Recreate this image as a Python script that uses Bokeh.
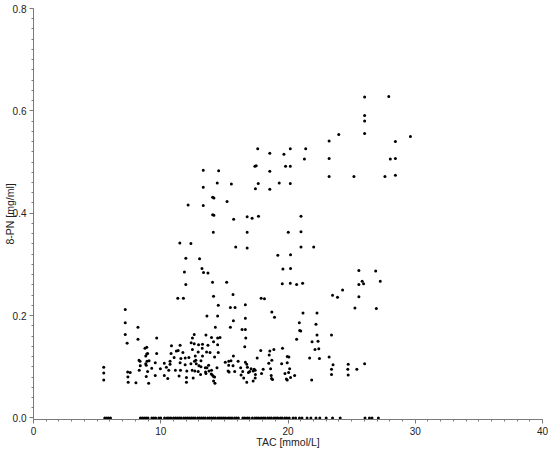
from bokeh.plotting import figure
from bokeh.models import Range1d, SingleIntervalTicker, NumeralTickFormatter
from bokeh.embed import file_html
from bokeh.resources import INLINE

# Upper / middle cluster (TAC mmol/L, 8-PN mg/ml)
tac_upper = [17.62, 18.57, 19.68, 20.18, 21.39, 21.29, 17.40, 17.50, 18.57, 19.81, 20.18,
             13.34, 14.55, 17.66, 17.44, 18.57, 19.31, 20.18, 13.34, 14.44, 15.55, 14.08, 14.18,
             15.21, 12.15, 13.34, 14.08, 14.18, 15.73, 16.79, 17.18, 17.68, 21.02, 14.13, 16.79,
             20.02, 21.02, 11.50, 12.37, 15.89, 16.79, 21.02, 22.02, 19.20, 20.20, 11.97, 13.05,
             13.24, 11.86, 13.36, 13.71, 19.60, 20.20, 11.97, 14.07, 15.18, 19.55, 20.18, 20.68, 21.15,
             26.02, 27.92, 26.02, 26.02, 26.02, 23.99, 23.23, 28.44, 29.62, 23.23, 28.04, 28.44,
             23.23, 25.18, 27.62, 28.44, 25.57, 26.89, 25.83, 25.57, 25.94, 27.25, 25.57, 25.26,
             26.94, 26.02, 25.41]
pn_upper = [0.526, 0.517, 0.515, 0.526, 0.526, 0.506, 0.492, 0.493, 0.482, 0.492, 0.492,
            0.484, 0.483, 0.458, 0.448, 0.447, 0.459, 0.458, 0.451, 0.459, 0.457, 0.431, 0.430,
            0.423, 0.416, 0.415, 0.397, 0.396, 0.388, 0.393, 0.390, 0.394, 0.394, 0.363, 0.363,
            0.363, 0.364, 0.342, 0.341, 0.334, 0.332, 0.334, 0.334, 0.318, 0.319, 0.312, 0.311,
            0.292, 0.285, 0.284, 0.283, 0.291, 0.292, 0.261, 0.265, 0.265, 0.262, 0.263, 0.261, 0.263,
            0.627, 0.628, 0.591, 0.580, 0.556, 0.554, 0.541, 0.540, 0.550, 0.507, 0.506, 0.507,
            0.472, 0.472, 0.472, 0.474, 0.288, 0.287, 0.267, 0.261, 0.262, 0.267, 0.237, 0.215,
            0.214, 0.106, 0.095]

# Lower middle cluster
tac_mid = [14.15, 15.68, 17.89, 18.15, 23.50, 23.89, 24.29, 14.52, 15.47, 15.84, 16.65, 18.73,
           18.94, 21.18, 22.28, 13.63, 14.47, 16.65, 15.71, 14.29, 15.47, 20.89, 22.20, 16.39,
           16.65, 20.92, 21.00, 12.63, 13.55, 22.28, 23.42, 13.99, 14.47, 14.66, 16.68, 20.68,
           14.15, 12.63, 12.97, 13.28, 13.71, 14.47, 21.89, 22.36, 13.26, 16.60, 22.12, 22.42,
           12.94, 13.60, 13.87, 14.52, 17.86, 18.57, 18.89, 19.57, 12.71, 13.28, 14.23, 15.71,
           18.52, 19.94, 20.07, 21.70, 22.47, 23.23, 12.76, 12.65, 13.16, 15.07, 15.34, 15.52,
           16.08, 17.58, 18.73, 12.79, 13.00, 13.16, 13.76, 15.34, 15.68, 16.65, 16.76, 18.49,
           19.50, 19.94, 23.54, 24.73, 13.50, 13.63, 14.42, 16.28, 16.81, 17.10, 17.34, 18.05,
           18.63, 20.13, 23.42, 24.70, 12.68, 12.94, 13.52, 13.79, 13.99, 15.29, 15.37, 15.81,
           16.44, 16.99, 17.26, 17.42, 16.31, 16.89, 13.13, 13.55, 13.97, 14.05, 17.44, 17.92,
           18.68, 19.76, 20.05, 23.42, 24.73, 14.15, 14.23, 16.52, 17.42, 18.71, 18.78, 19.87,
           19.94, 20.20, 21.86, 14.15, 14.26, 16.76, 17.26, 20.52]
pn_mid = [0.238, 0.241, 0.234, 0.233, 0.240, 0.236, 0.250, 0.220, 0.216, 0.216, 0.221, 0.207,
          0.197, 0.205, 0.205, 0.199, 0.199, 0.195, 0.190, 0.177, 0.177, 0.186, 0.183, 0.173,
          0.173, 0.171, 0.170, 0.163, 0.162, 0.162, 0.162, 0.157, 0.156, 0.157, 0.156, 0.154,
          0.149, 0.145, 0.143, 0.144, 0.142, 0.143, 0.149, 0.150, 0.136, 0.139, 0.134, 0.135,
          0.129, 0.129, 0.128, 0.128, 0.132, 0.131, 0.134, 0.136, 0.121, 0.121, 0.119, 0.121,
          0.123, 0.120, 0.119, 0.117, 0.116, 0.119, 0.113, 0.111, 0.112, 0.109, 0.111, 0.112,
          0.111, 0.117, 0.113, 0.106, 0.102, 0.100, 0.103, 0.103, 0.102, 0.109, 0.105, 0.107,
          0.106, 0.108, 0.104, 0.105, 0.098, 0.098, 0.098, 0.098, 0.099, 0.096, 0.095, 0.095,
          0.096, 0.096, 0.095, 0.095, 0.092, 0.091, 0.090, 0.092, 0.093, 0.092, 0.090, 0.091,
          0.091, 0.091, 0.092, 0.093, 0.084, 0.089, 0.085, 0.087, 0.086, 0.084, 0.085, 0.087,
          0.083, 0.087, 0.089, 0.085, 0.084, 0.081, 0.080, 0.078, 0.078, 0.077, 0.075, 0.076,
          0.074, 0.079, 0.074, 0.072, 0.068, 0.070, 0.072, 0.083]

# Lower left cluster
tac_left = [11.34, 11.78, 7.21, 7.21, 8.21, 7.21, 8.21, 9.68, 7.36, 12.49, 12.39, 10.84, 11.52,
            12.49, 8.90, 8.76, 11.23, 11.37, 11.74, 8.90, 8.97, 9.68, 10.81, 8.82, 8.29, 8.37,
            11.05, 11.58, 11.92, 12.21, 8.92, 9.08, 9.57, 10.73, 8.39, 8.82, 8.86, 10.28, 10.73,
            11.52, 11.92, 12.37, 5.52, 5.52, 5.52, 7.40, 7.60, 8.31, 9.29, 8.97, 9.97, 10.44,
            10.63, 11.15, 11.55, 12.05, 12.47, 7.42, 8.86, 9.57, 10.28, 10.55, 11.44, 12.02,
            12.02, 12.55, 7.44, 8.05, 9.05]
pn_left = [0.234, 0.234, 0.212, 0.186, 0.177, 0.163, 0.154, 0.156, 0.146, 0.156, 0.147, 0.141,
           0.142, 0.134, 0.138, 0.136, 0.131, 0.132, 0.128, 0.125, 0.126, 0.126, 0.126, 0.121,
           0.113, 0.111, 0.118, 0.116, 0.117, 0.118, 0.111, 0.112, 0.108, 0.111, 0.102, 0.106,
           0.103, 0.107, 0.105, 0.108, 0.104, 0.106, 0.099, 0.088, 0.074, 0.090, 0.089, 0.093,
           0.097, 0.091, 0.096, 0.099, 0.093, 0.093, 0.093, 0.092, 0.093, 0.080, 0.081, 0.083,
           0.083, 0.077, 0.082, 0.079, 0.070, 0.078, 0.070, 0.069, 0.068]

# Samples with 8-PN = 0
tac_zero = [5.60, 5.75, 5.90, 6.05, 8.40, 8.55, 8.70, 8.85, 9.00, 9.30, 9.45, 9.60, 9.85, 10.00,
            10.30, 10.50, 10.65, 10.80, 11.00, 11.15, 11.30, 11.45, 11.60, 11.80, 11.95, 12.10,
            12.25, 12.40, 12.55, 12.70, 12.90, 13.05, 13.20, 13.35, 13.50, 13.70, 13.85, 14.00,
            14.15, 14.30, 14.50, 14.65, 14.80, 14.95, 15.10, 15.30, 15.45, 15.60, 15.80, 15.95,
            16.10, 16.45, 16.60, 16.80, 16.95, 17.20, 17.40, 17.55, 17.70, 17.90, 18.05, 18.20,
            18.40, 18.55, 18.70, 18.90, 19.05, 19.20, 19.40, 19.55, 19.75, 19.90, 20.10, 20.40,
            20.60, 20.90, 21.10, 21.50, 21.80, 22.20, 22.50, 23.00, 23.50, 24.10, 26.05, 26.40,
            26.60, 27.10]
pn_zero = [0.0] * len(tac_zero)

tac = tac_upper + tac_mid + tac_left + tac_zero
pn = pn_upper + pn_mid + pn_left + pn_zero

FONT = "Liberation Sans"

p = figure(width=550, height=450, output_backend="svg", toolbar_location=None,
           x_range=Range1d(0, 40), y_range=Range1d(-0.003, 0.8),
           min_border_left=0, min_border_right=8, min_border_top=8, min_border_bottom=0)

p.scatter(tac, pn, size=3, fill_color="black", line_color=None, marker="circle")

p.outline_line_color = None
p.xgrid.visible = False
p.ygrid.visible = False
p.background_fill_color = "white"
p.border_fill_color = "white"

p.xaxis.ticker = SingleIntervalTicker(interval=10, num_minor_ticks=10)
p.yaxis.ticker = SingleIntervalTicker(interval=0.2, num_minor_ticks=10)
p.yaxis.formatter = NumeralTickFormatter(format="0.0")
p.xaxis.axis_label = "TAC [mmol/L]"
p.yaxis.axis_label = "8-PN [mg/ml]"

for ax in (p.xaxis, p.yaxis):
    ax.axis_line_color = "#7a7a7a"
    ax.major_tick_line_color = "#7a7a7a"
    ax.minor_tick_line_color = "#7a7a7a"
    ax.major_tick_in = 0
    ax.major_tick_out = 4
    ax.minor_tick_in = 0
    ax.minor_tick_out = 2
    ax.major_label_text_font = FONT
    ax.major_label_text_font_size = "10px"
    ax.major_label_text_color = "#222222"
    ax.axis_label_text_font = FONT
    ax.axis_label_text_font_size = "10.5px"
    ax.axis_label_text_font_style = "normal"
    ax.axis_label_text_color = "#222222"
    ax.major_label_standoff = 3

p.xaxis.axis_label_standoff = -2
p.yaxis.axis_label_standoff = -6

open("out.html", "w").write(file_html(p, INLINE))
